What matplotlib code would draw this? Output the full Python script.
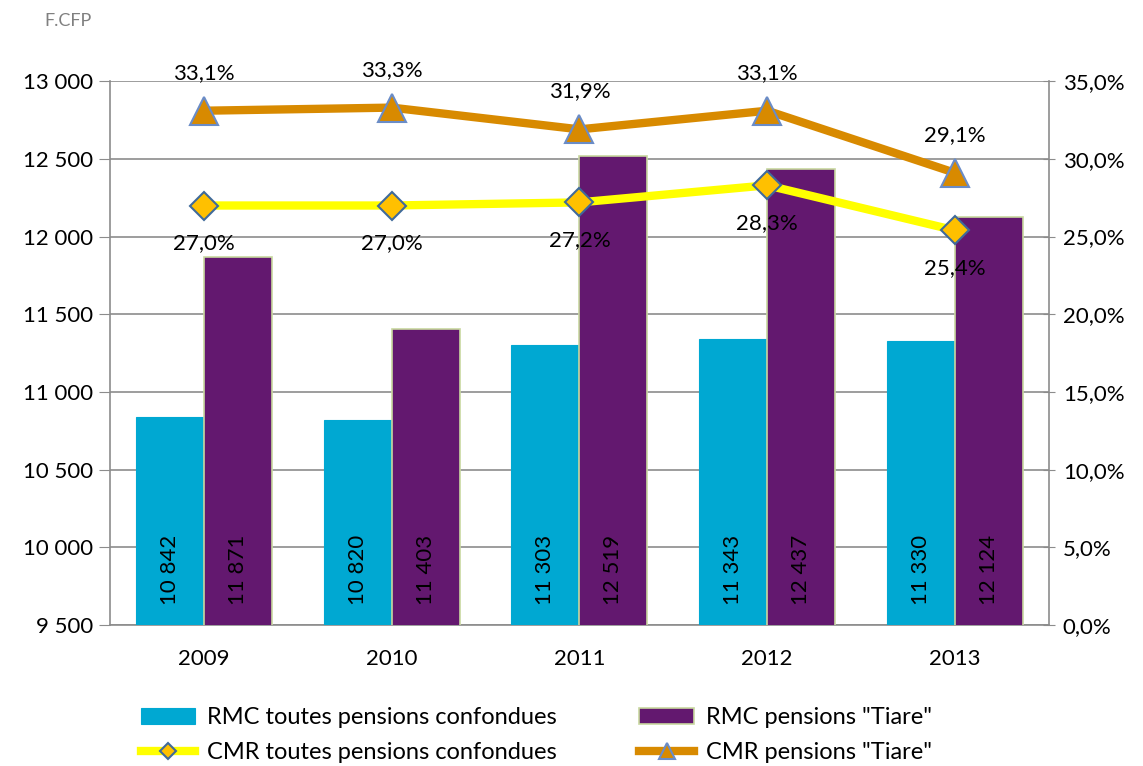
import numpy as np
import matplotlib.pyplot as plt
from matplotlib.ticker import FuncFormatter

plt.rcParams['font.family'] = ['Lato', 'DejaVu Sans']

years = ["2009", "2010", "2011", "2012", "2013"]
rmc_all = [10842, 10820, 11303, 11343, 11330]
rmc_tiare = [11871, 11403, 12519, 12437, 12124]
cmr_all = [27.0, 27.0, 27.2, 28.3, 25.4]
cmr_tiare = [33.1, 33.3, 31.9, 33.1, 29.1]

CYAN = "#00a8d2"
PURPLE = "#63186f"
ORANGE = "#d88a00"
YELLOW = "#ffff00"
GRID = "#8c8c8c"
FS = 16


def fr_thousands(v, pos=None):
    return f"{int(v):,}".replace(",", " ")


def fr_pct(v, pos=None):
    return f"{v:.1f}%".replace(".", ",")


fig = plt.figure(figsize=(11.43, 7.66), dpi=100)
ax = fig.add_axes([0.0962, 0.184, 0.8215, 0.710])
ax2 = ax.twinx()

x = np.arange(len(years))
w = 0.362

ax.bar(x - w / 2, rmc_all, w, color=CYAN, edgecolor=CYAN, linewidth=0.8,
       label="RMC toutes pensions confondues", zorder=3)
ax.bar(x + w / 2, rmc_tiare, w, color=PURPLE, edgecolor="#c8d8a0", linewidth=1.2,
       label='RMC pensions "Tiare"', zorder=3)

# value labels written upward from the bottom of each bar
for xi, v in zip(x - w / 2, rmc_all):
    ax.text(xi, 9630, fr_thousands(v), rotation=90, ha="center", va="bottom",
            fontsize=FS, color="black", zorder=4)
for xi, v in zip(x + w / 2, rmc_tiare):
    ax.text(xi, 9630, fr_thousands(v), rotation=90, ha="center", va="bottom",
            fontsize=FS, color="black", zorder=4)

ax.set_ylim(9500, 13000)
ax.set_yticks(np.arange(9500, 13001, 500))
ax.yaxis.set_major_formatter(FuncFormatter(fr_thousands))
ax.set_xlim(-0.5, 4.5)
ax.set_xticks(x)
ax.set_xticklabels(years)
ax.tick_params(axis="x", length=0, labelsize=FS, pad=17)
ax.tick_params(axis="y", length=8, color=GRID, labelsize=FS, pad=4)
ax.grid(axis="y", color=GRID, linewidth=1.2, zorder=0)
ax.set_axisbelow(True)
for s in ["top", "right"]:
    ax.spines[s].set_visible(False)
ax.spines["left"].set_color(GRID)
ax.spines["bottom"].set_color(GRID)
ax.spines["left"].set_linewidth(1.2)
ax.spines["bottom"].set_linewidth(1.2)

ax2.plot(x, cmr_all, color=YELLOW, linewidth=6, marker="D", markersize=14,
         markerfacecolor="#ffc000", markeredgecolor="#3f6a9b", markeredgewidth=1.5,
         label="CMR toutes pensions confondues", zorder=5)
ax2.plot(x, cmr_tiare, color=ORANGE, linewidth=6, marker="^", markersize=20,
         markerfacecolor=ORANGE, markeredgecolor="#6a8cc7", markeredgewidth=1.5,
         label='CMR pensions "Tiare"', zorder=6)

for xi, v in zip(x, cmr_tiare):
    ax2.annotate(fr_pct(v), (xi, v), xytext=(0, 20), textcoords="offset points",
                 ha="center", va="bottom", fontsize=FS)
for xi, v in zip(x, cmr_all):
    ax2.annotate(fr_pct(v), (xi, v), xytext=(0, -20), textcoords="offset points",
                 ha="center", va="top", fontsize=FS)

ax2.set_ylim(0, 35)
ax2.set_yticks(np.arange(0, 35.1, 5))
ax2.yaxis.set_major_formatter(FuncFormatter(fr_pct))
ax2.tick_params(axis="y", length=8, color=GRID, labelsize=FS, pad=6, direction="inout")
for s in ["top", "left", "bottom"]:
    ax2.spines[s].set_visible(False)
ax2.spines["right"].set_color(GRID)
ax2.spines["right"].set_linewidth(1.2)

h1, l1 = ax.get_legend_handles_labels()
h2, l2 = ax2.get_legend_handles_labels()
handles = [h1[0], h2[0], h1[1], h2[1]]
labels = [l1[0], l2[0], l1[1], l2[1]]
fig.legend(handles, labels, loc="lower left", bbox_to_anchor=(0.115, -0.009), ncol=2,
           frameon=False, fontsize=17, handlelength=2.3, columnspacing=3.5,
           handletextpad=0.5, labelspacing=0.6, markerscale=0.6, borderaxespad=0)

fig.text(0.039, 0.972, "F.CFP", fontsize=13, color="#808080", ha="left", va="center")

fig.savefig("out.png", dpi=100)
